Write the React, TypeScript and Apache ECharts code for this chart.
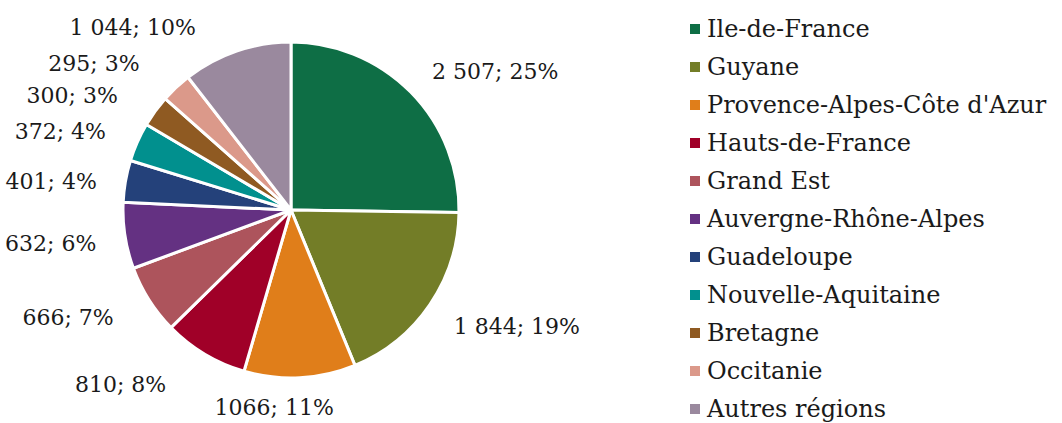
import React, { useEffect, useRef } from "react";
import * as echarts from "echarts";

const regions = [
  "Ile-de-France",
  "Guyane",
  "Provence-Alpes-Côte d'Azur",
  "Hauts-de-France",
  "Grand Est",
  "Auvergne-Rhône-Alpes",
  "Guadeloupe",
  "Nouvelle-Aquitaine",
  "Bretagne",
  "Occitanie",
  "Autres régions",
];
const values = [2507, 1844, 1066, 810, 666, 632, 401, 372, 300, 295, 1044];
const valueLabels = ["2 507", "1 844", "1066", "810", "666", "632", "401", "372", "300", "295", "1 044"];
const percentLabels = ["25%", "19%", "11%", "8%", "7%", "6%", "4%", "4%", "3%", "3%", "10%"];
const colors = [
  "#0E6E45",
  "#737D27",
  "#E07E1A",
  "#A00028",
  "#AD545C",
  "#643182",
  "#24417A",
  "#01908E",
  "#8F5A22",
  "#DB998A",
  "#9A899E",
];
// small nudges of the data labels (layout, not data)
const labelNudgeX = [-5, -6, -92, -18, -5, 6, 6, 1, -8, -11, -26];
const labelNudgeY = [0, 5, 0, 5, 2, 3, 5, 2, 2, -2, 5];

const FONT = "'DejaVu Serif', serif";

export default function App() {
  const ref = useRef<HTMLDivElement>(null);
  useEffect(() => {
    document.body.style.margin = "0";
    if (!ref.current) return;
    const chart = echarts.init(ref.current, undefined, { renderer: "svg" });
    chart.setOption({
      animation: false,
      backgroundColor: "#ffffff",
      color: colors,
      legend: {
        orient: "vertical",
        left: 688,
        top: 17,
        height: 410,
        padding: 0,
        itemWidth: 12,
        itemHeight: 12,
        itemGap: 14,
        icon: "rect",
        textStyle: { fontFamily: FONT, fontSize: 24, color: "#1a1a1a", padding: [0, 0, 0, 1], lineHeight: 24 },
        data: regions,
      },
      series: [
        {
          type: "pie",
          center: [291, 210],
          radius: 168,
          startAngle: 90,
          clockwise: true,
          avoidLabelOverlap: false,
          itemStyle: { borderColor: "#ffffff", borderWidth: 3 },
          label: {
            show: true,
            position: "outside",
            fontFamily: FONT,
            fontSize: 22,
            color: "#1a1a1a",
            formatter: (p: any) => `${valueLabels[p.dataIndex]}; ${percentLabels[p.dataIndex]}`,
          },
          labelLine: { show: false, length: 30, length2: 0 },
          labelLayout: (p: any) => ({ dx: labelNudgeX[p.dataIndex], dy: labelNudgeY[p.dataIndex] }),
          emphasis: { disabled: true },
          data: regions.map((name, i) => ({ name, value: values[i] })),
        },
      ],
    });
    return () => chart.dispose();
  }, []);
  return <div ref={ref} style={{ width: 1062, height: 423 }} />;
}
